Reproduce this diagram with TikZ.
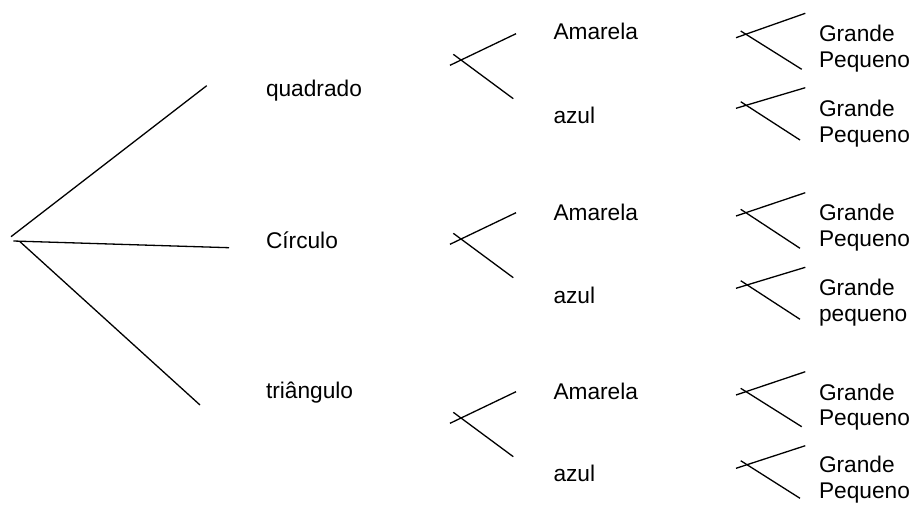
\documentclass[tikz,border=0pt]{standalone}
\usepackage{fontspec}
\setmainfont{Liberation Sans}
\begin{document}
\begin{tikzpicture}[x=1pt,y=-1pt,
  branch/.style={draw=black,line width=1.3pt},
  lbl/.style={anchor=base west,inner sep=0pt,outer sep=0pt,
    font=\fontsize{22.7}{26}\selectfont}]
\useasboundingbox (0,0) rectangle (917,511);

% first level: shapes
\coordinate (r1a) at (11,236.7);   \coordinate (r1b) at (206.7,85.7);
\coordinate (r2a) at (13.3,241);   \coordinate (r2b) at (229,247.7);
\coordinate (r3a) at (20,241.7);   \coordinate (r3b) at (200,405);
\draw[branch] (r1a) -- (r1b);
\draw[branch] (r2a) -- (r2b);
\draw[branch] (r3a) -- (r3b);

\node[lbl] (quad) at (266,96.5) {quadrado};
\node[lbl] (circ) at (266,248.3) {Círculo};
\node[lbl] (tri)  at (266,398.3) {triângulo};

% second level: colours
\foreach \g/\dy in {1/0,2/179,3/358}{
  \coordinate (c\g ua) at (450,65.3+\dy);  \coordinate (c\g ub) at (516,33.7+\dy);
  \coordinate (c\g la) at (453.3,54.3+\dy); \coordinate (c\g lb) at (513.3,98.7+\dy);
  \draw[branch] (c\g ua) -- (c\g ub);
  \draw[branch] (c\g la) -- (c\g lb);
}
\node[lbl] (am1) at (553.5,39.3)  {Amarela};
\node[lbl] (az1) at (553.5,123)   {azul};
\node[lbl] (am2) at (553.5,220.5) {Amarela};
\node[lbl] (az2) at (553.5,303)   {azul};
\node[lbl] (am3) at (553.5,399.3) {Amarela};
\node[lbl] (az3) at (553.5,481.7) {azul};

% third level: sizes
\foreach \n/\ya/\yb/\yc/\yd/\xd in {
  a/37.7/13.3/31/69.3/801.7,
  b/108.3/87.7/101.7/140/800,
  c/216/192.7/209.3/248.3/800,
  d/288.3/267.3/280.7/319.3/800,
  e/395/371.7/388.3/426.7/801.7,
  f/468.3/445.7/460.7/498.3/800}{
  \coordinate (s\n ua) at (736,\ya);   \coordinate (s\n ub) at (805.3,\yb);
  \coordinate (s\n la) at (740.7,\yc); \coordinate (s\n lb) at (\xd,\yd);
  \draw[branch] (s\n ua) -- (s\n ub);
  \draw[branch] (s\n la) -- (s\n lb);
}
\node[lbl] (g1) at (819,41.7)  {Grande};
\node[lbl] (p1) at (819,67)    {Pequeno};
\node[lbl] (g2) at (819,116.7) {Grande};
\node[lbl] (p2) at (819,142)   {Pequeno};
\node[lbl] (g3) at (819,220.7) {Grande};
\node[lbl] (p3) at (819,246.7) {Pequeno};
\node[lbl] (g4) at (819,295.5) {Grande};
\node[lbl] (p4) at (819,321.5) {pequeno};
\node[lbl] (g5) at (819,400)   {Grande};
\node[lbl] (p5) at (819,425.5) {Pequeno};
\node[lbl] (g6) at (819,472)   {Grande};
\node[lbl] (p6) at (819,498)   {Pequeno};
\end{tikzpicture}
\end{document}
